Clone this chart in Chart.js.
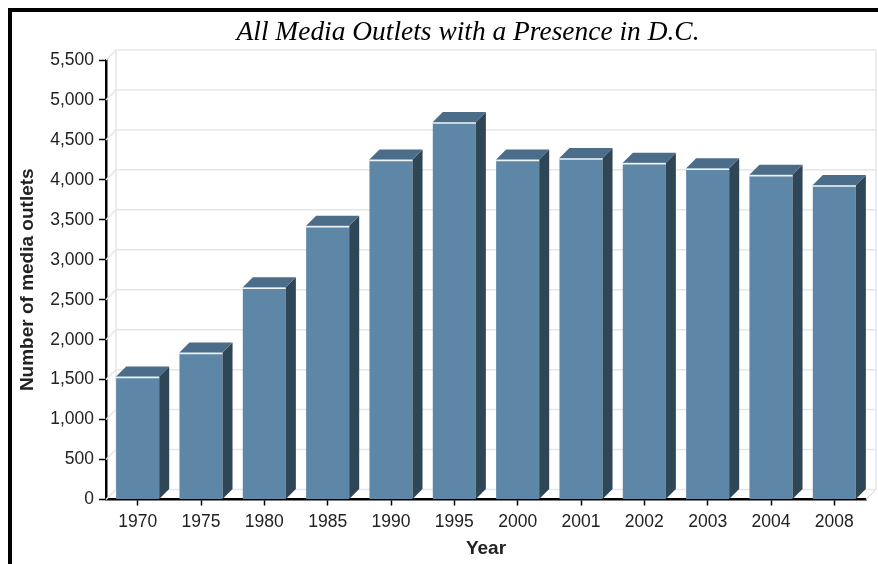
<!DOCTYPE html>
<html>
<head>
<meta charset="utf-8">
<script src="https://cdn.jsdelivr.net/npm/chart.js@4.4.1/dist/chart.umd.min.js"></script>
<style>
  html, body { margin: 0; padding: 0; background: #fff; }
  #wrap { position: relative; width: 878px; height: 564px; overflow: hidden; }
  #frame { position: absolute; left: 8px; top: 8px; width: 1000px; height: 1000px;
           border-left: 4px solid #000; border-top: 4px solid #000; pointer-events: none; }
  canvas { display: block; }
</style>
</head>
<body>
<div id="wrap">
  <canvas id="chart" width="878" height="564"></canvas>
  <div id="frame"></div>
</div>
<script>
// Media outlets with a presence in Washington, D.C., by year
const years = ['1970', '1975', '1980', '1985', '1990', '1995', '2000', '2001', '2002', '2003', '2004', '2008'];
const outlets = [1540, 1840, 2655, 3425, 4255, 4725, 4255, 4275, 4215, 4145, 4065, 3935];
const yMax = 5500;
const yStep = 500;

const chartTitle = 'All Media Outlets with a Presence in D.C.';
const yTitle = 'Number of media outlets';
const xTitle = 'Year';

const DEPTH = 10;
const FRONT = '#5e87a7';
const SIDE = '#2f4657';
const TOP = '#4b6d89';
const WALL = '#e6e6e6';

// Back wall, left wall and floor edges of the pseudo-3D plot box
const wallPlugin = {
  id: 'wall',
  beforeDatasetsDraw(chart) {
    const { ctx, chartArea: a, scales: { y } } = chart;
    const d = DEPTH;
    ctx.save();
    ctx.strokeStyle = WALL;
    ctx.lineWidth = 1.5;
    y.ticks.forEach(t => {
      const py = y.getPixelForValue(t.value);
      ctx.beginPath();
      ctx.moveTo(a.left, py);
      ctx.lineTo(a.left + d, py - d);
      ctx.lineTo(a.right + d, py - d);
      ctx.stroke();
    });
    ctx.beginPath();
    ctx.moveTo(a.left + d, a.top - d);
    ctx.lineTo(a.left + d, a.bottom - d);
    ctx.moveTo(a.right + d, a.top - d);
    ctx.lineTo(a.right + d, a.bottom - d);
    ctx.lineTo(a.right, a.bottom);
    ctx.stroke();
    ctx.restore();
  }
};

// Side and top faces for each bar, plus the light edge along the front top
const bar3dPlugin = {
  id: 'bar3d',
  afterDatasetsDraw(chart) {
    const { ctx } = chart;
    const d = DEPTH;
    chart.getDatasetMeta(0).data.forEach(bar => {
      const { x, y, width, base } = bar.getProps(['x', 'y', 'width', 'base'], true);
      const l = x - width / 2, r = x + width / 2;
      ctx.save();
      ctx.fillStyle = SIDE;
      ctx.beginPath();
      ctx.moveTo(r, y);
      ctx.lineTo(r + d, y - d);
      ctx.lineTo(r + d, base - d);
      ctx.lineTo(r, base);
      ctx.closePath();
      ctx.fill();
      ctx.fillStyle = TOP;
      ctx.beginPath();
      ctx.moveTo(l, y);
      ctx.lineTo(l + d, y - d);
      ctx.lineTo(r + d, y - d);
      ctx.lineTo(r, y);
      ctx.closePath();
      ctx.fill();
      ctx.strokeStyle = 'rgba(255,255,255,0.9)';
      ctx.lineWidth = 1.5;
      ctx.beginPath();
      ctx.moveTo(l, y + 1);
      ctx.lineTo(r, y + 1);
      ctx.stroke();
      ctx.restore();
    });
  }
};

// Chart heading in an italic serif face
const headingPlugin = {
  id: 'heading',
  afterDraw(chart) {
    const { ctx } = chart;
    ctx.save();
    ctx.font = 'italic 27px "Liberation Serif", serif';
    ctx.fillStyle = '#000';
    ctx.textAlign = 'center';
    ctx.textBaseline = 'alphabetic';
    const w = ctx.measureText(chartTitle).width;
    const sx = 463 / w;
    ctx.translate(468, 40);
    ctx.scale(sx, 1);
    ctx.fillText(chartTitle, 0, 0);
    ctx.restore();
  }
};

const tickFont = { family: '"Liberation Sans", Arial, sans-serif', size: 17.5 };
const titleFont = { family: '"Liberation Sans", Arial, sans-serif', size: 19, weight: 'bold' };

new Chart(document.getElementById('chart'), {
  type: 'bar',
  data: {
    labels: years,
    datasets: [{
      data: outlets,
      backgroundColor: FRONT,
      borderWidth: 0,
      categoryPercentage: 1,
      barPercentage: 0.68
    }]
  },
  options: {
    responsive: false,
    animation: false,
    devicePixelRatio: 1,
    layout: { padding: { top: 60, right: 12, left: 0, bottom: 0 } },
    plugins: { legend: { display: false }, tooltip: { enabled: false }, title: { display: false } },
    scales: {
      x: {
        z: 1,
        grid: { offset: false, drawOnChartArea: false, drawTicks: true, tickLength: 6, tickWidth: 1.5, tickColor: '#000' },
        border: { display: true, color: '#000', width: 2.5 },
        ticks: { color: '#222', font: tickFont, padding: 6, maxRotation: 0 },
        title: { display: true, text: xTitle, color: '#222', font: titleFont, padding: { top: 0, bottom: 4 } },
        afterFit(s) { s.height = 64.5; }
      },
      y: {
        z: 1,
        min: 0,
        max: yMax,
        grid: { drawOnChartArea: false, drawTicks: true, tickLength: 7, tickWidth: 1.5, tickColor: '#000' },
        border: { display: true, color: '#000', width: 2.5 },
        ticks: {
          stepSize: yStep,
          color: '#222',
          font: tickFont,
          padding: 5,
          callback: v => v.toLocaleString('en-US')
        },
        title: { display: true, text: yTitle, color: '#222', font: titleFont, padding: { top: 16, bottom: 0 } },
        afterFit(s) { s.width = 106; }
      }
    }
  },
  plugins: [wallPlugin, bar3dPlugin, headingPlugin]
});
</script>
</body>
</html>
